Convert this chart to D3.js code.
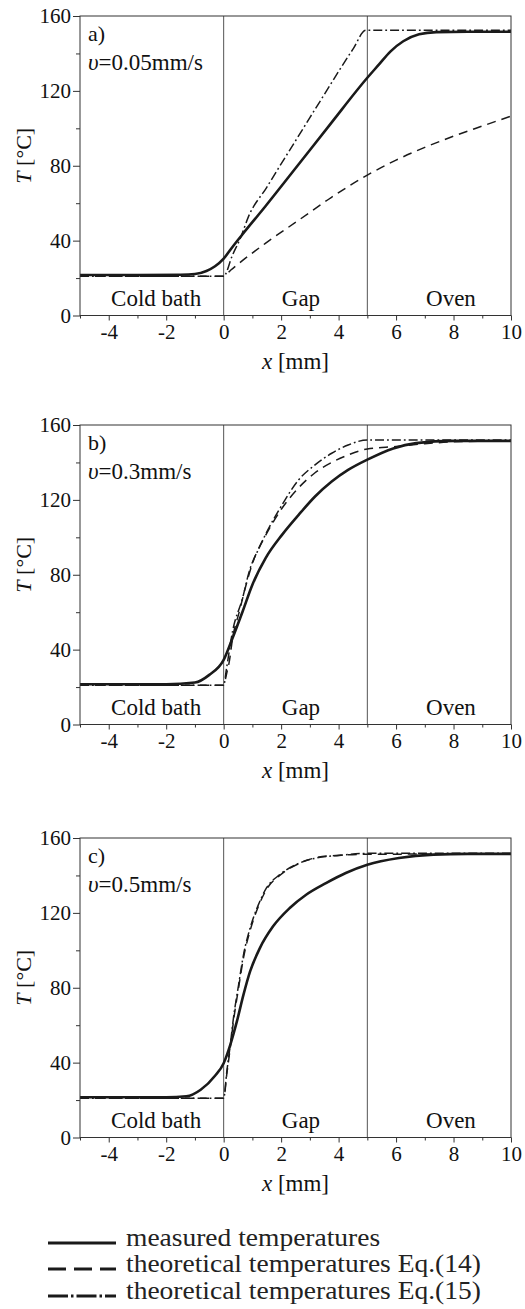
<!DOCTYPE html>
<html><head><meta charset="utf-8">
<script src="https://cdn.jsdelivr.net/npm/d3@7"></script>
<style>
body{margin:0;background:#fff}
</style>
</head><body>
<svg id="chart" width="525" height="1309"></svg>
<script>
// ---------- data ----------
const xTicks = [-4, -2, 0, 2, 4, 6, 8, 10];
const xMinorTicks = [-5, -3, -1, 1, 3, 5, 7, 9];
const yTicks = [0, 40, 80, 120, 160];
const yMinorTicks = [20, 60, 100, 140];
const regionNames = ["Cold bath", "Gap", "Oven"];
const regionLabelX = [-2.35, 2.69, 7.91];
const regionBounds = [0, 5];
const panelLetters = ["a)", "b)", "c)"];
const speeds = ["=0.05mm/s", "=0.3mm/s", "=0.5mm/s"];
const legendLabels = ["measured temperatures", "theoretical temperatures Eq.(14)", "theoretical temperatures Eq.(15)"];

// panel a (v = 0.05 mm/s)
const aMeasX = [-5, -3, -1.5, -1, -0.6, -0.3, 0, 0.3, 0.63, 1.44, 2.59, 3.74, 5, 5.4, 5.8, 6.25, 6.8, 7.4, 8.5, 10];
const aMeasT = [21.6, 21.6, 21.8, 22.2, 23.8, 26.3, 30.4, 36.5, 42.9, 58.1, 80.4, 102.8, 127, 134, 141, 146.5, 150.2, 151.4, 151.6, 151.6];
const aEq14X = [-5, 0, 0.25, 0.52, 1.44, 2.59, 3.74, 5, 6, 7, 8, 9, 10];
const aEq14T = [21, 21, 24.3, 27.7, 38.4, 50.7, 63, 75, 83, 89.8, 95.8, 101.2, 106.5];
const aEq15X = [-5, 0, 0.3, 0.6, 0.86, 1.5, 2, 2.5, 3, 3.5, 4, 4.5, 4.95, 10];
const aEq15T = [21, 21, 32, 42, 52.7, 68.5, 81, 93.3, 105.7, 118, 130.4, 142.3, 152.4, 152.4];

// panel b (v = 0.3 mm/s)
const bMeasX = [-5, -2, -1, -0.5, 0, 0.31, 0.66, 1.0, 1.46, 2.03, 2.61, 3.18, 3.76, 4.33, 5, 5.9, 6.7, 8, 10];
const bMeasT = [21.5, 21.5, 22.4, 26.5, 34.5, 46.2, 60.4, 74.7, 88.9, 101.3, 112, 121.8, 129.8, 136, 141.5, 147.5, 150.3, 151.5, 151.5];
const bEq14X = [-5, 0, 0.1, 0.2, 0.31, 0.54, 0.77, 1.0, 1.46, 2.03, 2.61, 3.18, 3.76, 4.33, 5, 6, 7, 8, 10];
const bEq14T = [21, 21, 27, 34, 46, 60, 74, 86, 101, 115.5, 126.5, 134.5, 140, 144, 147.2, 148.5, 150, 151, 151.5];
const bEq15X = [-5, 0, 0.1, 0.31, 0.66, 0.89, 1.23, 1.57, 2.03, 2.61, 3.18, 3.76, 4.33, 5, 10];
const bEq15T = [21, 21, 30, 49.8, 67.6, 81.8, 94.2, 104.9, 117.3, 130.7, 138.7, 144.9, 149.3, 152, 152];

// panel c (v = 0.5 mm/s)
const cMeasX = [-5, -2, -1.3, -0.8, -0.3, 0, 0.23, 0.46, 0.69, 0.92, 1.26, 1.72, 2.3, 2.87, 3.56, 4.25, 5, 6.1, 7.3, 8.5, 10];
const cMeasT = [21.5, 21.5, 22, 25.5, 33, 39.7, 49.5, 62, 76.3, 88.7, 101.2, 112.8, 122.6, 129.7, 135.9, 141.3, 145.7, 149.3, 151.1, 151.5, 151.5];
const cEq14X = [-5, 0, 0.11, 0.23, 0.34, 0.52, 0.69, 0.92, 1.21, 1.49, 1.95, 2.64, 3.22, 4.02, 5, 10];
const cEq14T = [21, 21, 34, 48, 62, 80, 96, 110.5, 123.5, 132.5, 140, 146.5, 149.5, 150.8, 151.3, 151.5];
const cEq15X = [-5, 0, 0.11, 0.23, 0.34, 0.52, 0.69, 0.92, 1.21, 1.49, 1.95, 2.64, 3.22, 4.02, 5, 10];
const cEq15T = [21, 21, 35.3, 49.5, 63.8, 81.6, 97.6, 111.9, 124.4, 133.3, 140.4, 146.6, 149.3, 150.7, 151.8, 151.8];

// ---------- layout ----------
const FONT = '"Liberation Serif", serif';
const serif = sel => sel.attr("font-family", "Liberation Serif").style("font-family", FONT);
const svg = d3.select("#chart");
const left = 80, right = 511;
const panelTops = [16, 425, 838];
const panelH = 299.5;
const ink = "#1a1a1a";

const styles = [
  {width: 2.6, dash: null},
  {width: 1.5, dash: "9,6"},
  {width: 1.5, dash: "9,3,1.8,3"}
];

const zip = (xs, ts) => xs.map((v, i) => ({x: v, t: ts[i]}));
const panels = [
  {series: [zip(aMeasX, aMeasT), zip(aEq14X, aEq14T), zip(aEq15X, aEq15T)]},
  {series: [zip(bMeasX, bMeasT), zip(bEq14X, bEq14T), zip(bEq15X, bEq15T)]},
  {series: [zip(cMeasX, cMeasT), zip(cEq14X, cEq14T), zip(cEq15X, cEq15T)]}
];

const xScale = d3.scaleLinear().domain([-5, 10]).range([left, right]);

panels.forEach((p, pi) => {
  const pTop = panelTops[pi], pBottom = pTop + panelH;
  const yScale = d3.scaleLinear().domain([0, 160]).range([pBottom, pTop]);
  const g = svg.append("g");

  const clipId = "clip" + pi;
  svg.append("clipPath").attr("id", clipId).append("rect")
    .attr("x", left).attr("y", pTop).attr("width", right - left).attr("height", panelH);

  // region separators
  g.selectAll("line.sep").data(regionBounds).enter().append("line")
    .attr("x1", d => xScale(d)).attr("x2", d => xScale(d))
    .attr("y1", pTop).attr("y2", pBottom)
    .attr("stroke", "#555").attr("stroke-width", 1);

  // curves (theory first, measured on top)
  const line = d3.line().x(d => xScale(d.x)).y(d => yScale(d.t)).curve(d3.curveMonotoneX);
  [2, 1, 0].forEach(si => {
    g.append("path").datum(p.series[si])
      .attr("clip-path", `url(#${clipId})`)
      .attr("fill", "none").attr("stroke", ink)
      .attr("stroke-width", styles[si].width)
      .attr("stroke-dasharray", styles[si].dash)
      .attr("stroke-linejoin", "round")
      .attr("d", line);
  });

  // frame
  g.append("rect").attr("x", left).attr("y", pTop)
    .attr("width", right - left).attr("height", panelH)
    .attr("fill", "none").attr("stroke", "#333").attr("stroke-width", 1);

  // y axis
  const ya = g.append("g").attr("transform", `translate(${left},0)`)
    .call(d3.axisLeft(yScale).tickValues(yTicks).tickSize(7).tickPadding(2).tickFormat(d => String(d)));
  ya.attr("font-family", "Liberation Serif").attr("font-size", 21);
  ya.select(".domain").remove();
  serif(ya.selectAll("text")).attr("fill", "#111").style("font-size", "21px");
  ya.selectAll("line").attr("stroke", "#333");
  const yb = g.append("g").attr("transform", `translate(${left},0)`)
    .call(d3.axisLeft(yScale).tickValues(yMinorTicks).tickSize(4).tickFormat(""));
  yb.select(".domain").remove();
  yb.selectAll("line").attr("stroke", "#333");

  // x axis
  const xa = g.append("g").attr("transform", `translate(0,${pBottom})`)
    .call(d3.axisBottom(xScale).tickValues(xTicks).tickSize(5).tickPadding(4).tickFormat(d => String(d)));
  xa.attr("font-family", "Liberation Serif").attr("font-size", 21);
  xa.select(".domain").remove();
  serif(xa.selectAll("text")).attr("fill", "#111").style("font-size", "21px");
  xa.selectAll("line").attr("stroke", "#333");
  const xb = g.append("g").attr("transform", `translate(0,${pBottom})`)
    .call(d3.axisBottom(xScale).tickValues(xMinorTicks).tickSize(3).tickFormat(""));
  xb.select(".domain").remove();
  xb.selectAll("line").attr("stroke", "#333");

  // region labels
  serif(g.selectAll("text.region").data(regionNames).enter().append("text"))
    .attr("class", "region")
    .attr("x", (d, i) => xScale(regionLabelX[i])).attr("y", pBottom - 10)
    .attr("text-anchor", "middle").style("font-size", "23px").attr("fill", "#111")
    .text(d => d);

  // panel letter and speed
  serif(g.append("text")).attr("x", 88).attr("y", pTop + 25).style("font-size", "22px")
    .attr("fill", "#111").text(panelLetters[pi]);
  const sp = serif(g.append("text")).attr("x", 88).attr("y", pTop + 54)
    .style("font-size", "23px").attr("fill", "#111");
  sp.append("tspan").style("font-style", "italic").text("υ");
  sp.append("tspan").text(speeds[pi]);

  // y title
  const yt = serif(g.append("text"))
    .attr("transform", `translate(31,${(pTop + pBottom) / 2 - 10}) rotate(-90)`)
    .attr("text-anchor", "middle").style("font-size", "22px").attr("fill", "#111");
  yt.append("tspan").style("font-style", "italic").text("T");
  yt.append("tspan").text(" [°C]");

  // x title
  const xt = serif(g.append("text")).attr("x", (left + right) / 2).attr("y", pBottom + 53)
    .attr("text-anchor", "middle").style("font-size", "23px").attr("fill", "#111");
  xt.append("tspan").style("font-style", "italic").text("x");
  xt.append("tspan").text(" [mm]");
});

// ---------- legend ----------
const legendY = [1243, 1269, 1296];
const legendDash = [null, "18,8", "20,3,2.5,3"];
const lg = svg.append("g");
legendLabels.forEach((lab, i) => {
  lg.append("line").attr("x1", 48).attr("x2", 116)
    .attr("y1", legendY[i]).attr("y2", legendY[i])
    .attr("stroke", ink).attr("stroke-width", 3)
    .attr("stroke-dasharray", legendDash[i]);
  serif(lg.append("text"))
    .attr("transform", `translate(126,${legendY[i] + 3}) scale(1.1,1)`)
    .style("font-size", "25px").attr("fill", "#222")
    .text(lab);
});
</script>
</body></html>
